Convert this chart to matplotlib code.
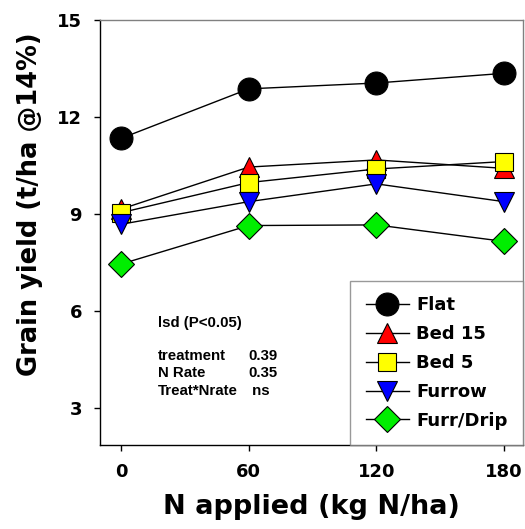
import matplotlib
matplotlib.use('Agg')
import matplotlib.pyplot as plt

# N rates and grain yield (t/ha @14%) for each planting system
n_rate = [0, 60, 120, 180]
flat = [11.34, 12.87, 13.05, 13.35]
bed15 = [9.15, 10.45, 10.67, 10.41]
bed5 = [9.04, 9.97, 10.39, 10.62]
furrow = [8.68, 9.38, 9.93, 9.38]
furr_drip = [7.45, 8.64, 8.66, 8.15]

series = [
    ('Flat', flat, 'o', 'black', 16.5),
    ('Bed 15', bed15, '^', 'red', 14.5),
    ('Bed 5', bed5, 's', 'yellow', 13.5),
    ('Furrow', furrow, 'v', 'blue', 14.5),
    ('Furr/Drip', furr_drip, 'D', '#00ee00', 12.8),
]

lsd_rows = [('treatment', '0.39'), ('N Rate', '0.35'), ('Treat*Nrate', ' ns')]

fig = plt.figure(figsize=(5.25, 5.29), dpi=100)
ax = fig.add_axes([100 / 525, 84 / 529, 423 / 525, 425 / 529])

for name, vals, mk, col, ms in series:
    ax.plot(n_rate, vals, color='black', lw=1.0, marker=mk, markersize=ms,
            markerfacecolor=col, markeredgecolor='black', markeredgewidth=0.8,
            label=name)

ax.set_xlim(-10, 189)
ax.set_ylim(1.85, 15)
ax.set_xticks(n_rate)
ax.set_yticks([3, 6, 9, 12, 15])

for s in ['left', 'bottom']:
    ax.spines[s].set_color('black')
    ax.spines[s].set_linewidth(1.0)
for s in ['top', 'right']:
    ax.spines[s].set_color('#808080')
    ax.spines[s].set_linewidth(1.0)

ax.tick_params(direction='out', length=4, width=1, pad=9, labelsize=13,
               top=False, right=False)
for lab in ax.get_xticklabels() + ax.get_yticklabels():
    lab.set_fontweight('bold')

ax.set_xlabel('N applied (kg N/ha)', fontsize=19.5, fontweight='bold', labelpad=9)
ax.set_ylabel('Grain yield (t/ha @14%)', fontsize=18.5, fontweight='bold')
ax.yaxis.set_label_coords(-0.135, 0.567)

# lsd block
lsd_font = dict(family='Liberation Sans', fontsize=10.8, fontweight='bold', va='center')
ax.text(17.4, 5.63, 'lsd (P<0.05)', **lsd_font)
for i, (lab, val) in enumerate(lsd_rows):
    y = 4.61 - i * 0.545
    ax.text(17.4, y, lab, **lsd_font)
    ax.text(59.7, y, val, **lsd_font)

leg = ax.legend(loc='lower right', borderaxespad=0, fancybox=False,
                frameon=True, handlelength=2.4, labelspacing=0.6,
                borderpad=0.85, handletextpad=0.4,
                prop=dict(size=13, weight='bold'))
leg.get_frame().set_edgecolor('#808080')
leg.get_frame().set_linewidth(1.0)

fig.savefig('out.png', dpi=100)
